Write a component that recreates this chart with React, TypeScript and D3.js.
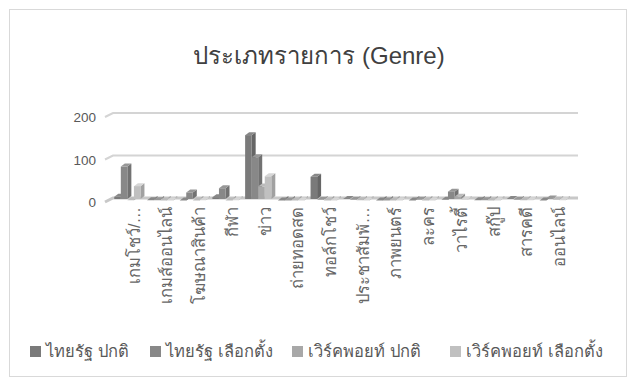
import React from 'react';
import * as d3 from 'd3';

const categories = [
  'เกมโชว์/…', 'เกมส์ออนไลน์', 'โฆษณาสินค้า', 'กีฬา', 'ข่าว', 'ถ่ายทอดสด', 'ทอล์กโชว์',
  'ประชาสัมพั…', 'ภาพยนตร์', 'ละคร', 'วาไรตี้', 'สกู๊ป', 'สารคดี', 'ออนไลน์',
];
const seriesNames = ['ไทยรัฐ ปกติ', 'ไทยรัฐ เลือกตั้ง', 'เวิร์คพอยท์ ปกติ', 'เวิร์คพอยท์ เลือกตั้ง'];
const thairathNormal = [10, 2, 1, 9, 155, 1, 57, 5, 1, 1, 3, 2, 5, 1];
const thairathElection = [81, 2, 20, 30, 103, 1, 3, 3, 1, 3, 22, 2, 3, 6];
const workpointNormal = [2, 1, 1, 1, 34, 1, 1, 2, 1, 1, 10, 1, 2, 3];
const workpointElection = [35, 1, 2, 2, 58, 1, 1, 1, 1, 1, 3, 1, 2, 2];
const yTicks = [0, 100, 200];

const seriesValues = [thairathNormal, thairathElection, workpointNormal, workpointElection];
const colors = ['#7a7a7a', '#888888', '#a8a8a8', '#c0c0c0'];

const W = 637;
const H = 387;
const depthX = 4;
const depthY = 3;
const font = '"Liberation Sans", Arial, "DejaVu Sans", sans-serif';

const App: React.FC = () => {
  const x = d3.scaleBand<string>().domain(categories).range([111, 569]).paddingInner(0.2).paddingOuter(0.1);
  const sub = d3.scaleBand<number>().domain([0, 1, 2, 3]).range([0, x.bandwidth()]);
  const y = d3.scaleLinear().domain([0, 200]).range([198, 113]);
  const step = x.step();

  const legendX = [30, 150, 292, 450];

  return (
    <svg width={W} height={H} style={{ position: 'absolute', left: 0, top: 0 }} fontFamily={font}>
      <rect x={0} y={0} width={W} height={H} fill="#fff" />
      <rect x={9.5} y={9.5} width={617} height={367} fill="none" stroke="#d9d9d9" />
      <text x={319} y={64} textAnchor="middle" fontSize={24} fill="#404040">
        ประเภทรายการ (Genre)
      </text>

      {/* back-wall grid lines with slanted left end */}
      {yTicks.map((t) => (
        <g key={t}>
          <polyline
            points={`105,${y(t) + depthY + 1} ${105 + depthX * 2},${y(t)} 578,${y(t)}`}
            fill="none"
            stroke={t === 0 ? '#c8c8c8' : '#d4d4d4'}
            strokeWidth={t === 0 ? 3 : 2}
          />
          <text x={96} y={y(t) + depthY + 6} textAnchor="end" fontSize={13.5} fill="#595959">
            {t}
          </text>
        </g>
      ))}

      {/* 3D-ish bars */}
      {categories.map((c, i) =>
        seriesValues.map((vals, s) => {
          const v = vals[i];
          const x0 = (x(c) ?? 0) + (sub(s) ?? 0);
          const bw = sub.bandwidth();
          const top = y(v) + depthY;
          const bottom = y(0) + 1;
          const col = d3.color(colors[s])!;
          return (
            <g key={c + s}>
              <polygon
                points={`${x0 + bw},${top} ${x0 + bw + depthX},${top - depthY} ${x0 + bw + depthX},${bottom - depthY} ${x0 + bw},${bottom}`}
                fill={col.darker(0.5).toString()}
              />
              <polygon
                points={`${x0},${top} ${x0 + depthX},${top - depthY} ${x0 + bw + depthX},${top - depthY} ${x0 + bw},${top}`}
                fill={col.brighter(0.3).toString()}
              />
              <rect x={x0} y={top} width={bw} height={Math.max(0, bottom - top)} fill={colors[s]} />
            </g>
          );
        })
      )}

      {/* category labels */}
      {categories.map((c) => {
        const cx = (x(c) ?? 0) + step * 0.4 + 8;
        return (
          <text
            key={c}
            transform={`translate(${cx},207) rotate(-90)`}
            textAnchor="end"
            dominantBaseline="middle"
            fontSize={16.5}
            fill="#666666"
          >
            {c}
          </text>
        );
      })}

      {/* legend */}
      {seriesNames.map((n, s) => (
        <g key={n} transform={`translate(${legendX[s]},351)`}>
          <rect x={0} y={-5} width={11} height={11} fill={colors[s]} />
          <text x={16} y={6} fontSize={16.5} fill="#595959">
            {n}
          </text>
        </g>
      ))}
    </svg>
  );
};

export default App;
